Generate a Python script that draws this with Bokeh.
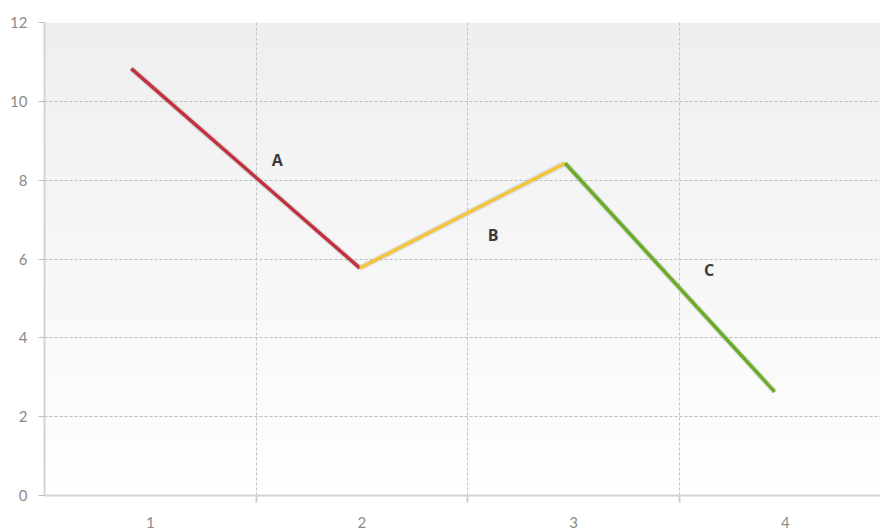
import numpy as np
from bokeh.plotting import figure
from bokeh.models import ColumnDataSource, FixedTicker, Range1d
from bokeh.core.properties import value
from bokeh.embed import file_html
from bokeh.resources import INLINE

# data
point_x = [0.91, 1.99, 2.96, 3.95]
point_y = [10.83, 5.77, 8.43, 2.63]
segment_names = ["A", "B", "C"]
segment_colors = ["#c1323e", "#f2c53d", "#6aab28"]
label_x = [1.60, 2.62, 3.64]
label_y = [8.5, 6.6, 5.72]
x_tick_values = [1, 2, 3, 4]
x_tick_labels = ["1", "2", "3", "4"]
y_tick_values = [0, 2, 4, 6, 8, 10, 12]

p = figure(width=880, height=530, output_backend="svg", toolbar_location=None,
           x_range=Range1d(0.5, 4.45), y_range=Range1d(0, 12),
           min_border_left=44, min_border_right=0, min_border_top=22, min_border_bottom=34)
p.outline_line_color = None
p.background_fill_color = "white"
p.border_fill_color = "white"

# vertical gradient background (light grey at top -> white at bottom)
n = 200
t = np.linspace(0, 1, n)  # 0 bottom, 1 top
grey = (255 - 16 * t).astype(np.uint32)
img = np.empty((n, 1), dtype=np.uint32)
view = img.view(dtype=np.uint8).reshape((n, 1, 4))
view[:, 0, 0] = grey
view[:, 0, 1] = grey
view[:, 0, 2] = grey
view[:, 0, 3] = 255
p.image_rgba(image=[img], x=0.5, y=0, dw=3.95, dh=12, level="image")

# grid
p.ygrid.ticker = FixedTicker(ticks=y_tick_values)
p.ygrid.grid_line_color = "#bdbdbd"
p.ygrid.grid_line_dash = "3 2"
p.ygrid.grid_line_width = 1
p.xgrid.ticker = FixedTicker(ticks=x_tick_values, minor_ticks=[1.5, 2.5, 3.5])
p.xgrid.grid_line_color = None
p.xgrid.minor_grid_line_color = "#c4c4c4"
p.xgrid.minor_grid_line_dash = "3 2"

# axes
p.xaxis.ticker = FixedTicker(ticks=x_tick_values, minor_ticks=[1.5, 2.5, 3.5])
p.xaxis.major_label_overrides = {v: l for v, l in zip(x_tick_values, x_tick_labels)}
p.xaxis.major_tick_out = 0
p.xaxis.major_tick_in = 0
p.xaxis.minor_tick_out = 7
p.xaxis.minor_tick_in = 0
p.xaxis.minor_tick_line_color = "#cfcfcf"
p.xaxis.minor_tick_line_width = 2
p.xaxis.major_label_standoff = 14

p.yaxis.ticker = FixedTicker(ticks=y_tick_values)
p.yaxis.major_tick_out = 6
p.yaxis.major_tick_in = 0
p.yaxis.major_tick_line_color = "#bdbdbd"
p.yaxis.major_label_standoff = 11
p.yaxis.minor_tick_line_color = None

for ax in (p.xaxis, p.yaxis):
    ax.axis_line_color = "#d3d3d3"
    ax.axis_line_width = 2
    ax.major_label_text_font = "Lato"
    ax.major_label_text_font_size = "15px"
    ax.major_label_text_color = "#8a8a8a"

# coloured line segments
seg = ColumnDataSource(dict(x0=point_x[:-1], y0=point_y[:-1], x1=point_x[1:], y1=point_y[1:],
                            color=segment_colors))
p.segment(x0="x0", y0="y0", x1="x1", y1="y1", source=seg, line_color="#999999",
          line_alpha=0.25, line_width=6)
p.segment(x0="x0", y0="y0", x1="x1", y1="y1", source=seg, line_color="color", line_width=3.5)

lab = ColumnDataSource(dict(x=label_x, y=label_y, t=segment_names))
p.text(x="x", y="y", text="t", source=lab, text_font=value("Open Sans"), text_font_size="16px",
       text_font_style="bold", text_color="#3a3a3a", text_align="center", text_baseline="middle")

open("out.html", "w").write(file_html(p, INLINE))
